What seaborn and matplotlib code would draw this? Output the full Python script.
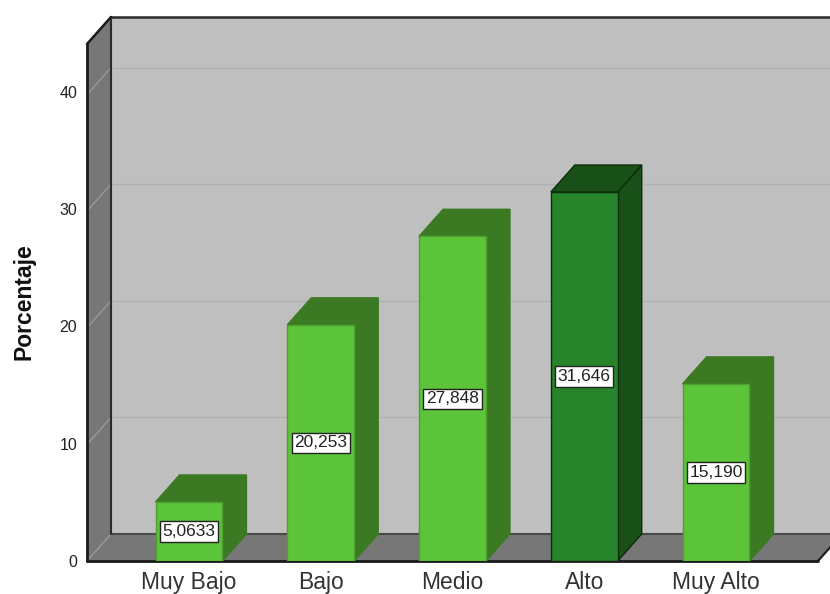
import seaborn as sns
import matplotlib.pyplot as plt
import pandas as pd
from matplotlib.patches import Polygon
from matplotlib.transforms import Affine2D

sns.set_style("white")
plt.rcParams['font.family'] = ['Liberation Sans', 'DejaVu Sans']

categorias = ["Muy Bajo", "Bajo", "Medio", "Alto", "Muy Alto"]
porcentajes = [5.0633, 20.253, 27.848, 31.646, 15.190]
etiquetas = ["5,0633", "20,253", "27,848", "31,646", "15,190"]
ticks_y = [0, 10, 20, 30, 40]

# colores: frente, lateral/techo y borde de cada barra
verde = "#5cc438"
verde_osc = "#3b7a23"
alto = "#28842b"
alto_osc = "#185018"
frente = [verde, verde, verde, alto, verde]
lado = [verde_osc, verde_osc, verde_osc, alto_osc, verde_osc]
borde = ["#4f9f33", "#4f9f33", "#4f9f33", "#0c2c0c", "#4f9f33"]

df = pd.DataFrame({"cat": categorias, "pct": porcentajes})

fig = plt.figure(figsize=(8.3, 5.94), dpi=100)
ax = fig.add_axes([87 / 830, 33 / 594, (818 - 87) / 830, (561 - 44) / 594])

sns.barplot(data=df, x="cat", y="pct", hue="cat", palette=frente, legend=False,
            width=0.508, saturation=1, ax=ax, zorder=5)

ax.set_xlim(-0.774, 4.774)
ax.set_ylim(0, 44.34)
x0, x1 = ax.get_xlim()
y0, y1 = ax.get_ylim()
dx = 24 / 131.75  # profundidad del efecto 3D en unidades de datos
dy = 27 / 11.66

# paredes y suelo
ax.add_patch(Polygon([(x0 + dx, y0 + dy), (x1 + dx, y0 + dy), (x1 + dx, y1 + dy), (x0 + dx, y1 + dy)],
                     fc="#bfbfbf", ec="none", clip_on=False, zorder=0))
ax.add_patch(Polygon([(x0, y0), (x0 + dx, y0 + dy), (x0 + dx, y1 + dy), (x0, y1)],
                     fc="#777777", ec="none", clip_on=False, zorder=1))
ax.add_patch(Polygon([(x0, y0), (x1, y0), (x1 + dx, y0 + dy), (x0 + dx, y0 + dy)],
                     fc="#777777", ec="none", clip_on=False, zorder=1))

# rejilla en la pared del fondo y en la lateral
for t in ticks_y[1:]:
    ax.plot([x0 + dx, x1 + dx], [t + dy, t + dy], color="#b0b0b0", lw=1, clip_on=False, zorder=0.5)
    ax.plot([x0, x0 + dx], [t, t + dy], color="#a0a0a0", lw=0.8, clip_on=False, zorder=1.5)
ax.plot([x0, x0 + dx], [y0, y0 + dy], color="#a0a0a0", lw=0.8, clip_on=False, zorder=1.5)

# contornos
ax.plot([x0 + dx, x1 + dx], [y0 + dy, y0 + dy], color="#4a4a4a", lw=1.5, clip_on=False, zorder=2)
ax.plot([x0 + dx, x0 + dx], [y0 + dy, y1 + dy], color="#2a2a2a", lw=1.5, clip_on=False, zorder=2)
ax.plot([x0 + dx, x1 + dx], [y1 + dy, y1 + dy], color="#2a2a2a", lw=1.8, clip_on=False, zorder=2)
ax.plot([x0, x0 + dx], [y1, y1 + dy], color="#1a1a1a", lw=1.8, clip_on=False, zorder=2)
ax.plot([x0, x0], [y0, y1], color="#1a1a1a", lw=2, clip_on=False, zorder=4)
ax.plot([x0, x1], [y0, y0], color="#1a1a1a", lw=2, clip_on=False, zorder=4)
ax.plot([x1, x1 + dx], [y0, y0 + dy], color="#1a1a1a", lw=1.5, clip_on=False, zorder=2)

# lateral, techo y etiqueta de cada barra
for i, bar in enumerate(ax.patches[:len(categorias)]):
    izq = bar.get_x()
    der = izq + bar.get_width()
    alt = bar.get_height()
    bar.set_edgecolor(borde[i])
    bar.set_linewidth(1)
    ax.add_patch(Polygon([(der, 0), (der + dx, dy), (der + dx, alt + dy), (der, alt)],
                         fc=lado[i], ec=borde[i] if i == 3 else lado[i], lw=1, zorder=4.5, clip_on=False))
    ax.add_patch(Polygon([(izq, alt), (izq + dx, alt + dy), (der + dx, alt + dy), (der, alt)],
                         fc=lado[i], ec=borde[i] if i == 3 else lado[i], lw=1, zorder=4.5, clip_on=False))
    ax.text(i, alt / 2, etiquetas[i], ha="center", va="center", fontsize=12.5, color="#222222", zorder=7,
            bbox=dict(boxstyle="square,pad=0.15", fc="white", ec="#222222", lw=1))

ax.set_yticks(ticks_y)
ax.set_yticklabels([str(t) for t in ticks_y], fontsize=11.5, color="#222222")
ax.set_xticks(range(len(categorias)))
ax.set_xticklabels(categorias, fontsize=16.5, color="#333333")
ax.tick_params(axis="y", length=0, pad=7)
ax.tick_params(axis="x", length=0, pad=7)
ax.set_xlabel("")
ax.set_ylabel("")
# los numeros del eje van un poco por encima de la rejilla, como en el original
for t, lab in zip(ticks_y, ax.get_yticklabels()):
    lab.set_transform(lab.get_transform() + Affine2D().translate(0, t * 0.07))
fig.text(24 / 830, 1 - 302 / 594, "Porcentaje", rotation=90, ha="center", va="center",
         fontsize=16.5, fontweight="bold", color="#111111")
sns.despine(ax=ax, left=True, bottom=True)

fig.savefig("out.png", dpi=100)
